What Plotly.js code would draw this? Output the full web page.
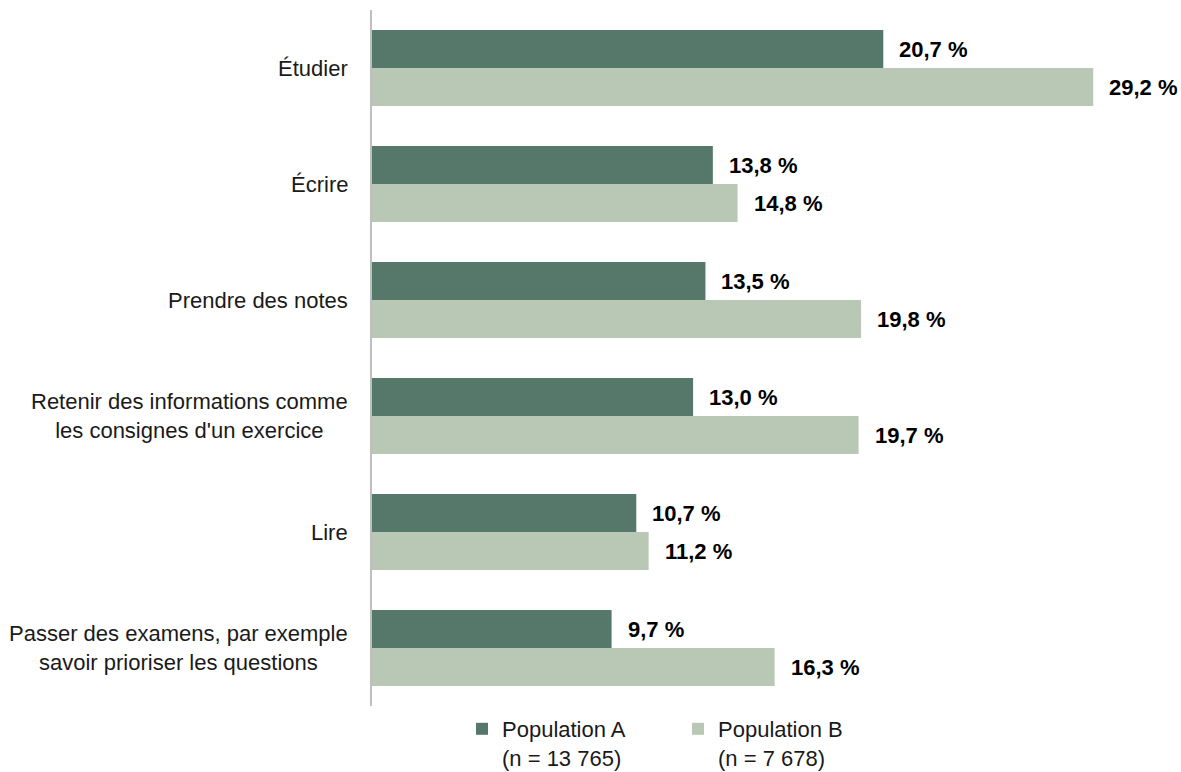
<!DOCTYPE html>
<html><head><meta charset="utf-8">
<script src="https://cdn.plot.ly/plotly-3.0.1.min.js"></script>
<style>html,body{margin:0;padding:0;background:#fff}#chart{width:1181px;height:772px}</style>
</head><body><div id="chart"></div>
<script>
const categories = ["Étudier", "Écrire", "Prendre des notes", "Retenir des informations comme<br>les consignes d'un exercice", "Lire", "Passer des examens, par exemple<br>savoir prioriser les questions"];
const popA = [20.7, 13.8, 13.5, 13.0, 10.7, 9.7];
const popB = [29.2, 14.8, 19.8, 19.7, 11.2, 16.3];
const seriesNames = ["Population A<br>(n = 13 765)", "Population B<br>(n = 7 678)"];

const FONT = "Liberation Sans Narrow, Arial Narrow, Liberation Sans, Arial, sans-serif";
const colA = "#56786b", colB = "#b9c8b5";
const fmt = v => v.toFixed(1).replace('.', ',') + ' %';

const traces = [
  {type:'bar', orientation:'h', name:seriesNames[0], y:categories, x:popA, marker:{color:colA}, hoverinfo:'skip'},
  {type:'bar', orientation:'h', name:seriesNames[1], y:categories, x:popB, marker:{color:colB}, hoverinfo:'skip'}
];

const bargap = 0.345;
const bw = (1 - bargap) / 2;
const annotations = [];
categories.forEach((c, i) => {
  annotations.push({xref:'paper', yref:'y', x:0, y:i, xanchor:'right', yanchor:'middle', xshift:-22,
    text:c, showarrow:false, align:'center', font:{family:FONT, size:22, color:'#1a1a1a'}});
  annotations.push({xref:'x', yref:'y', x:popA[i], y:i - bw/2, xanchor:'left', yanchor:'middle', xshift:14,
    text:'<b>'+fmt(popA[i])+'</b>', showarrow:false, font:{family:FONT, size:22, color:'#000'}});
  annotations.push({xref:'x', yref:'y', x:popB[i], y:i + bw/2, xanchor:'left', yanchor:'middle', xshift:14,
    text:'<b>'+fmt(popB[i])+'</b>', showarrow:false, font:{family:FONT, size:22, color:'#000'}});
});

const layout = {
  width:1181, height:772,
  margin:{l:372, r:9, t:10, b:66},
  paper_bgcolor:'#fff', plot_bgcolor:'#fff',
  barmode:'group', bargap:bargap, bargroupgap:0,
  font:{family:FONT, size:22, color:'#1a1a1a'},
  xaxis:{range:[0, 800/24.7], showgrid:false, zeroline:false, showticklabels:false, showline:false, fixedrange:true},
  yaxis:{type:'category', autorange:false, showgrid:false, zeroline:false, showticklabels:false,
         showline:true, linecolor:'#bfbfbf', linewidth:2, range:[5.5,-0.5]},
  showlegend:true,
  legend:{orientation:'h', xref:'container', yref:'container', x:462/1181, xanchor:'left', y:1-708/772, yanchor:'top',
          entrywidth:171, entrywidthmode:'pixels', valign:'top',
          font:{family:FONT, size:22, color:'#1a1a1a'}, itemclick:false, tracegroupgap:0},
  annotations:annotations
};
Plotly.newPlot('chart', traces, layout, {displayModeBar:false, staticPlot:true});
</script></body></html>
